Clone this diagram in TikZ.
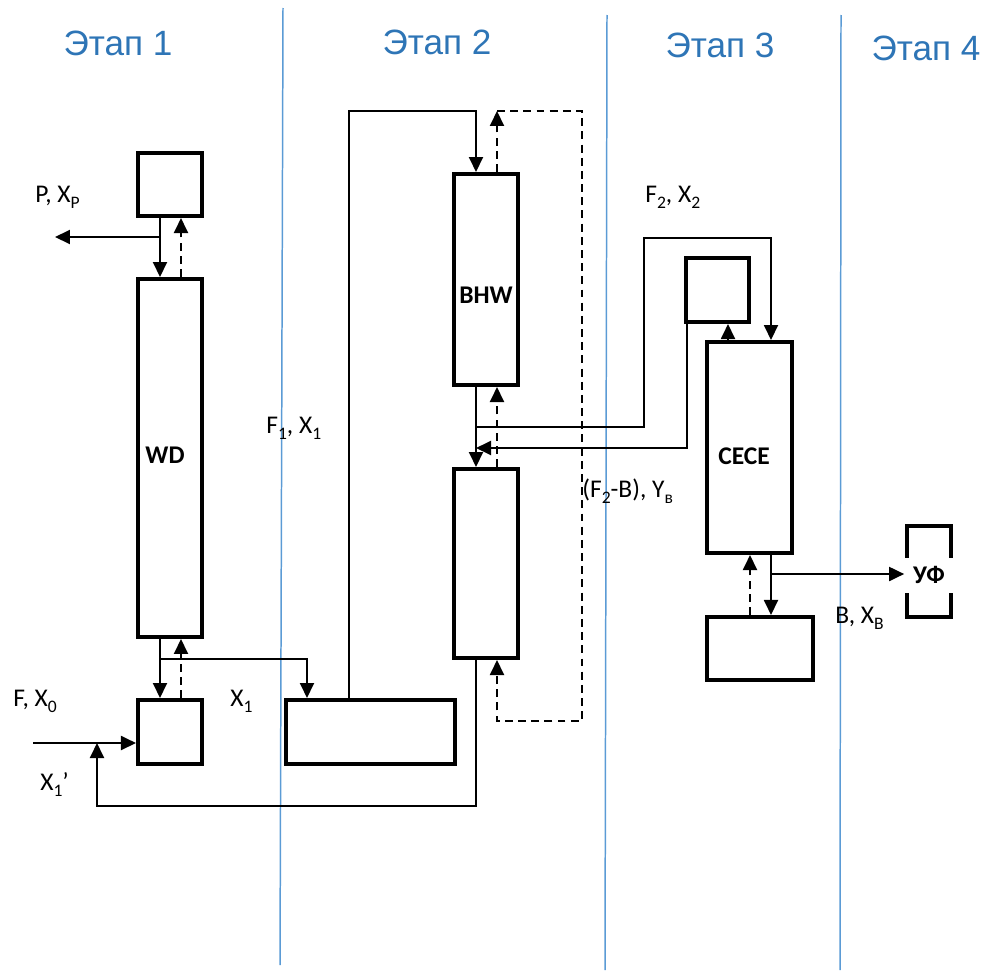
\documentclass[tikz,border=0pt]{standalone}
\usepackage{fontspec}
\setmainfont{Carlito}
\newfontfamily\stagefont{Liberation Sans}
\usetikzlibrary{arrows.meta,positioning}
\definecolor{stageblue}{HTML}{2E75B6}
\definecolor{stageline}{HTML}{5B9BD5}
\newcommand\lowsub[1]{\raisebox{-3.6pt}{\fontsize{10}{11}\selectfont #1}}

\begin{document}
\begin{tikzpicture}
  [x=0.02cm, y=-0.02cm,
  column/.style={draw, line width=2.3pt, inner sep=0pt},
  title/.style={inner sep=0pt, font=\bfseries\fontsize{14.5}{16}\selectfont},
  flow/.style={line width=1.1pt, -{Triangle[length=0.3cm,width=0.28cm]}},
  dashflow/.style={flow, dash pattern=on 4.5pt off 3pt},
  stage/.style={text=stageblue, font=\stagefont\fontsize{20}{22}\selectfont},
  tag/.style={anchor=base west, inner sep=0pt, font=\fontsize{14.5}{16}\selectfont},
  border/.style={stageline, line width=0.85pt}]
  \useasboundingbox (0,0) rectangle (986,970);

  \draw[border] (283,8) -- (280,965);
  \draw[border] (607,15) -- (605,970);
  \draw[border] (841,15) -- (840,970);

  \node[stage] (s1) at (118,43) {Этап 1};
  \node[stage] (s2) at (437,42) {Этап 2};
  \node[stage] (s3) at (720,45) {Этап 3};
  \node[stage] (s4) at (926,48) {Этап 4};

  \node[column, minimum width=1.28cm, minimum height=1.26cm] (cond1) at (170,184.5) {};
  \node[column, minimum width=1.28cm, minimum height=7.16cm] (wd) at (170,458) {};
  \node[column, minimum width=1.28cm, minimum height=1.28cm] (reb1) at (170,732) {};
  \node[column, minimum width=3.38cm, minimum height=1.28cm] (tank) at (370.5,732) {};
  \node[column, minimum width=1.28cm, minimum height=4.22cm] (bhw) at (486,279.5) {};
  \node[column, minimum width=1.28cm, minimum height=3.78cm] (low) at (486,563.5) {};
  \node[column, minimum width=1.26cm, minimum height=1.28cm] (cond3) at (717.5,290) {};
  \node[column, minimum width=1.70cm, minimum height=4.22cm] (cece) at (749.5,447.5) {};
  \node[column, minimum width=2.12cm, minimum height=1.26cm] (reb3) at (760,648.5) {};
  \node[column, minimum width=0.88cm, minimum height=1.82cm] (uf) at (929,571.5) {};

  \node[title] (wdt) at (165,455) {WD};
  \node[title] (bhwt) at (486,295) {BHW};
  \node[title] (cecet) at (744,456) {CECE};
  \node[title, fill=white, minimum width=0.98cm, minimum height=0.7cm] (ufl) at (929,575) {УФ\hspace{0.2cm}};

  \node[tag] (pxp) at (35,202) {P, X\lowsub{P}};
  \node[tag] (fx0) at (13,706) {F, X\lowsub{0}};
  \node[tag] (x1) at (230,706) {X\lowsub{1}};
  \node[tag] (x1r) at (40,790) {X\lowsub{1}’};
  \node[tag] (f1x1) at (266,433) {F\lowsub{1}, X\lowsub{1}};
  \node[tag] (f2x2) at (645,202) {F\lowsub{2}, X\lowsub{2}};
  \node[tag] (f2b) at (582,497) {(F\lowsub{2}-B), Y\lowsub{в}};
  \node[tag] (bxb) at (835,623) {B, X\lowsub{B}};

  \coordinate (ptap) at (160,237);
  \coordinate (pend) at (55,237);
  \coordinate (xtap) at (160,659);
  \coordinate (feedin) at (33,743);
  \coordinate (rjoin) at (97,743);
  \coordinate (dtop) at (497,111);
  \coordinate (dright) at (582,111);
  \coordinate (dlow) at (582,721);
  \coordinate (f2tap) at (476,427);
  \coordinate (f2up) at (644,238);
  \coordinate (r2tap) at (476,448);
  \coordinate (btap) at (771,574);

  % stage 1
  \draw[flow] (160,0 |- cond1.south) -- (160,0 |- wd.north);
  \draw[dashflow] (181,0 |- wd.north) -- (181,0 |- cond1.south);
  \draw[flow] (ptap) -- (pend);
  \draw[flow] (160,0 |- wd.south) -- (160,0 |- reb1.north);
  \draw[dashflow] (181,0 |- reb1.north) -- (181,0 |- wd.south);
  \draw[flow] (xtap) -- (307,659) -- (307,0 |- tank.north);
  \draw[flow] (feedin) -- (feedin -| reb1.west);
  \draw[flow] (476,0 |- low.south) -- (476,806) -| (rjoin);

  % stage 2
  \draw[flow] (349,0 |- tank.north) |- (476,111) -- (476,0 |- bhw.north);
  \draw[dashflow] (497,0 |- bhw.north) -- (dtop);
  \draw[dashflow] (dtop) -- (dright) -- (dlow) -- (497,721) -- (497,0 |- low.south);
  \draw[flow] (476,0 |- bhw.south) -- (476,0 |- low.north);
  \draw[dashflow] (497,0 |- low.north) -- (497,0 |- bhw.south);

  % stage 3
  \draw[flow] (f2tap) -| (f2up) -| (771,0 |- cece.north);
  \draw[flow] (687,0 |- cond3.south) |- (r2tap);
  \draw[flow] (728,0 |- cece.north) -- (728,0 |- cond3.south);
  \draw[flow] (771,0 |- cece.south) -- (771,0 |- reb3.north);
  \draw[dashflow] (750,0 |- reb3.north) -- (750,0 |- cece.south);
  \draw[flow] (btap) -- (btap -| ufl.west);
\end{tikzpicture}
\end{document}
